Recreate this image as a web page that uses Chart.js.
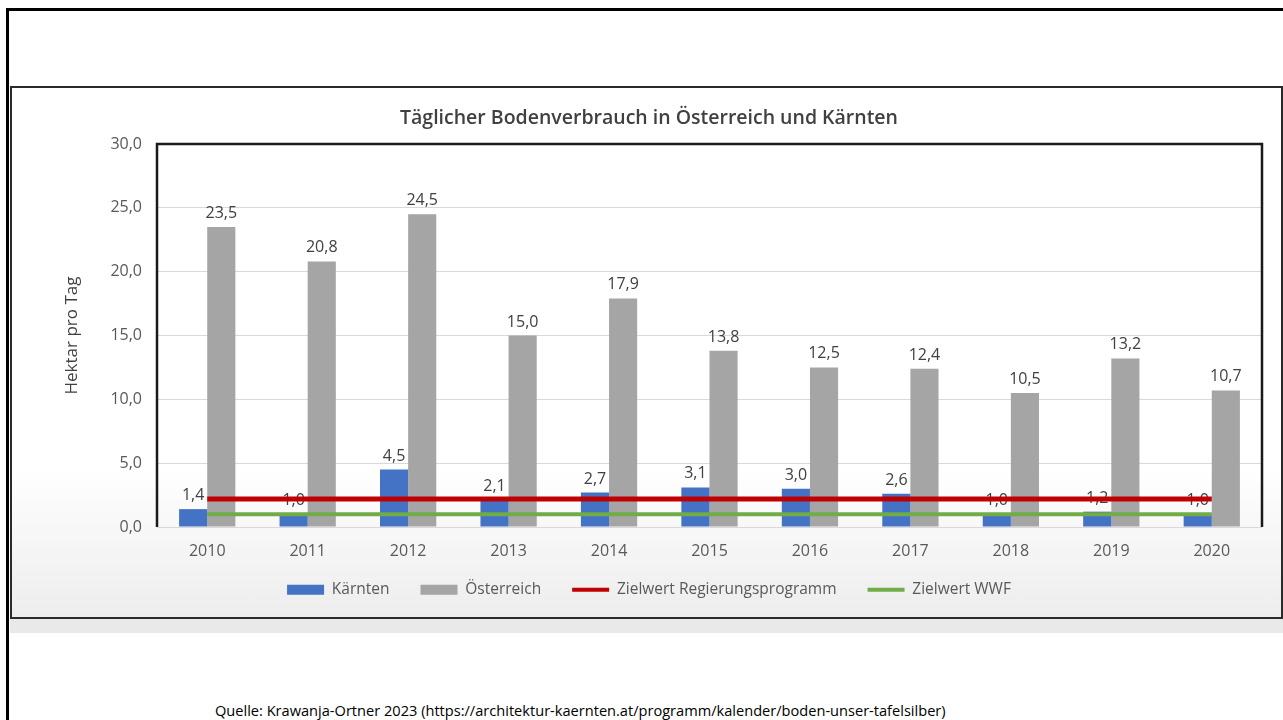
<!DOCTYPE html>
<html lang="de">
<head>
<meta charset="utf-8">
<title>Täglicher Bodenverbrauch</title>
<script src="https://cdn.jsdelivr.net/npm/chart.js@4.4.1/dist/chart.umd.min.js"></script>
<style>
  html, body { margin: 0; padding: 0; background: #fff; }
  body { width: 1283px; height: 720px; position: relative; overflow: hidden; font-family: "Open Sans", sans-serif; }
  .frame { position: absolute; left: 6px; top: 8px; width: 1300px; height: 720px; border-left: 3px solid #000; border-top: 3px solid #000; }
  .box { position: absolute; left: 10px; top: 86px; width: 1269px; height: 529px; border: 2px solid #2b2b2b;
         background: linear-gradient(to bottom, #fff 0%, #fff 72%, #ededed 100%); }
  .shadow { position: absolute; left: 10px; top: 619px; width: 1273px; height: 14px; background: #e9e9e9; }
  .box canvas { display: block; }
  .quelle { position: absolute; left: 215px; top: 700px; font-size: 14.6px; color: #000; white-space: nowrap; }
</style>
</head>
<body>
<div class="frame"></div>
<div class="box"><canvas id="grafik" width="1269" height="529"></canvas></div>
<div class="shadow"></div>
<div class="quelle">Quelle: Krawanja-Ortner 2023 (https://architektur-kaernten.at/programm/kalender/boden-unser-tafelsilber)</div>
<script>
const jahre = ['2010', '2011', '2012', '2013', '2014', '2015', '2016', '2017', '2018', '2019', '2020'];
const kaernten = [1.4, 1.0, 4.5, 2.1, 2.7, 3.1, 3.0, 2.6, 1.0, 1.2, 1.0];
const oesterreich = [23.5, 20.8, 24.5, 15.0, 17.9, 13.8, 12.5, 12.4, 10.5, 13.2, 10.7];
const zielRegierung = [2.2, 2.2, 2.2, 2.2, 2.2, 2.2, 2.2, 2.2, 2.2, 2.2, 2.2];
const zielWWF = [1.0, 1.0, 1.0, 1.0, 1.0, 1.0, 1.0, 1.0, 1.0, 1.0, 1.0];
const yTicks = [0, 5, 10, 15, 20, 25, 30];

const fmt = v => v.toFixed(1).replace('.', ',');
const schrift = '"Open Sans", sans-serif';

// Werte über den Balken, vor den Linien gezeichnet
const wertLabels = {
    id: 'wertLabels',
    afterDatasetDraw(chart, args) {
        const ds = chart.data.datasets[args.index];
        if (ds.type !== 'bar') return;
        const ctx = chart.ctx;
        ctx.save();
        ctx.font = '16px ' + schrift;
        ctx.fillStyle = '#404040';
        ctx.textAlign = 'center';
        ctx.textBaseline = 'alphabetic';
        args.meta.data.forEach((bar, i) => {
            ctx.fillText(fmt(ds.data[i]), bar.x, bar.y - 9);
        });
        ctx.restore();
    }
};

// schwarzer Rahmen um die Zeichenfläche (links, oben, rechts)
const rahmen = {
    id: 'rahmen',
    beforeDatasetsDraw(chart) {
        const { ctx, chartArea: a } = chart;
        ctx.save();
        ctx.strokeStyle = '#1a1a1a';
        ctx.lineWidth = 2.5;
        ctx.beginPath();
        ctx.moveTo(a.left, a.bottom);
        ctx.lineTo(a.left, a.top);
        ctx.lineTo(a.right, a.top);
        ctx.lineTo(a.right, a.bottom);
        ctx.stroke();
        ctx.restore();
    }
};

const ctx = document.getElementById('grafik').getContext('2d');
new Chart(ctx, {
    type: 'bar',
    data: {
        labels: jahre,
        datasets: [
            { type: 'bar', label: 'Kärnten', data: kaernten, backgroundColor: '#4472C4', borderWidth: 0, order: 1 },
            { type: 'bar', label: 'Österreich', data: oesterreich, backgroundColor: '#A5A5A5', borderWidth: 0, order: 1 },
            { type: 'line', label: 'Zielwert Regierungsprogramm', data: zielRegierung, borderColor: '#C00000', backgroundColor: '#C00000',
              borderWidth: 5, pointRadius: 0, fill: false, order: 0 },
            { type: 'line', label: 'Zielwert WWF', data: zielWWF, borderColor: '#70AD47', backgroundColor: '#70AD47',
              borderWidth: 4, pointRadius: 0, fill: false, order: 0 }
        ]
    },
    options: {
        responsive: false,
        animation: false,
        categoryPercentage: 0.56,
        barPercentage: 1.0,
        layout: { padding: { left: 24, right: 19, top: 8, bottom: 9.5 } },
        plugins: {
            tooltip: { enabled: false },
            title: {
                display: true,
                text: 'Täglicher Bodenverbrauch in Österreich und Kärnten',
                color: '#404040',
                font: { family: schrift, size: 19.5, weight: '600' },
                padding: { top: 11, bottom: 13.6 }
            },
            legend: {
                position: 'bottom',
                labels: {
                    color: '#595959',
                    font: { family: schrift, size: 15.5 },
                    usePointStyle: true,
                    pointStyleWidth: 37,
                    boxHeight: 10,
                    padding: 31,
                    sort: (a, b) => a.datasetIndex - b.datasetIndex,
                    generateLabels(chart) {
                        const items = Chart.defaults.plugins.legend.labels.generateLabels(chart);
                        items.forEach(it => {
                            const ds = chart.data.datasets[it.datasetIndex];
                            if (ds.type === 'line') {
                                it.pointStyle = 'line';
                                it.lineWidth = 4;
                                it.strokeStyle = ds.borderColor;
                            } else {
                                it.pointStyle = 'rect';
                                it.lineWidth = 0;
                            }
                        });
                        return items;
                    }
                }
            }
        },
        scales: {
            x: {
                grid: { display: false, drawTicks: false },
                border: { display: false },
                ticks: { color: '#595959', font: { family: schrift, size: 16 }, padding: 15, maxRotation: 0, autoSkip: false },
                afterFit(scale) {
                    scale.height = 24;
                    // Beschriftung darf unter die knappe Achsenbox reichen
                    scale._computeLabelArea = () => undefined;
                }
            },
            y: {
                min: 0,
                max: 30,
                grid: { color: '#d9d9d9', lineWidth: 1, drawTicks: false },
                border: { display: false },
                afterBuildTicks(scale) { scale.ticks = yTicks.map(v => ({ value: v })); },
                ticks: { color: '#595959', font: { family: schrift, size: 16 }, padding: 15, callback: v => fmt(v) },
                title: {
                    display: true,
                    text: 'Hektar pro Tag',
                    color: '#404040',
                    font: { family: schrift, size: 17 },
                    padding: { top: 26, bottom: 0 }
                },
                afterFit(scale) { scale.width = 121; }
            }
        }
    },
    plugins: [wertLabels, rahmen]
});
</script>
</body>
</html>
